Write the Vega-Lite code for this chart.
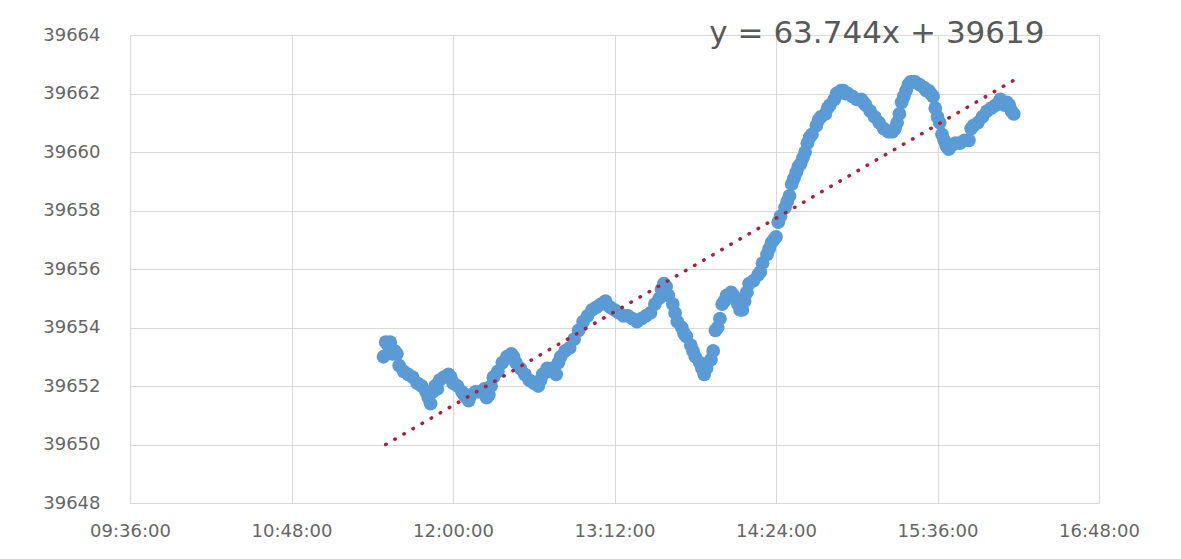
{
  "$schema": "https://vega.github.io/schema/vega-lite/v6.json",
  "width": 969,
  "height": 468,
  "autosize": {"type": "none"},
  "padding": {"left": 130, "top": 35, "right": 82, "bottom": 56},
  "background": "white",
  "config": {
    "view": {"stroke": null},
    "font": "DejaVu Sans",
    "axis": {
      "labelColor": "#666666",
      "labelFont": "DejaVu Sans",
      "labelFontSize": 18,
      "gridColor": "#D9D9D9",
      "gridWidth": 1,
      "domainColor": "#D9D9D9",
      "ticks": false,
      "title": null
    }
  },
  "datasets": {
    "pts": [
      {"t":"11:29","v":39653.0},{"t":"11:30","v":39653.5},{"t":"11:31","v":39653.4},{"t":"11:32","v":39653.5},
      {"t":"11:33","v":39653.1},{"t":"11:34","v":39653.2},{"t":"11:35","v":39653.1},{"t":"11:36","v":39652.7},
      {"t":"11:38","v":39652.5},{"t":"11:40","v":39652.4},{"t":"11:42","v":39652.3},{"t":"11:44","v":39652.1},
      {"t":"11:46","v":39652.0},{"t":"11:48","v":39651.8},{"t":"11:49","v":39651.6},{"t":"11:50","v":39651.4},
      {"t":"11:51","v":39651.8},{"t":"11:52","v":39652.0},{"t":"11:53","v":39651.9},{"t":"11:54","v":39652.2},
      {"t":"11:56","v":39652.3},{"t":"11:58","v":39652.4},{"t":"11:59","v":39652.3},{"t":"12:00","v":39652.1},
      {"t":"12:02","v":39652.0},{"t":"12:04","v":39651.8},{"t":"12:05","v":39651.7},{"t":"12:06","v":39651.6},
      {"t":"12:07","v":39651.5},{"t":"12:08","v":39651.7},{"t":"12:10","v":39651.8},{"t":"12:12","v":39651.8},
      {"t":"12:14","v":39651.9},{"t":"12:15","v":39651.6},{"t":"12:16","v":39651.7},{"t":"12:17","v":39652.0},
      {"t":"12:18","v":39652.3},{"t":"12:20","v":39652.5},{"t":"12:22","v":39652.8},{"t":"12:24","v":39653.0},
      {"t":"12:26","v":39653.1},{"t":"12:27","v":39653.0},{"t":"12:28","v":39652.8},{"t":"12:30","v":39652.6},
      {"t":"12:32","v":39652.4},{"t":"12:34","v":39652.2},{"t":"12:36","v":39652.1},{"t":"12:38","v":39652.0},
      {"t":"12:39","v":39652.2},{"t":"12:40","v":39652.4},{"t":"12:42","v":39652.6},{"t":"12:43","v":39652.5},
      {"t":"12:44","v":39652.6},{"t":"12:46","v":39652.4},{"t":"12:47","v":39652.8},{"t":"12:48","v":39653.0},
      {"t":"12:50","v":39653.2},{"t":"12:52","v":39653.3},{"t":"12:54","v":39653.6},{"t":"12:56","v":39653.9},
      {"t":"12:58","v":39654.2},{"t":"13:00","v":39654.4},{"t":"13:02","v":39654.6},{"t":"13:04","v":39654.7},
      {"t":"13:06","v":39654.8},{"t":"13:08","v":39654.9},{"t":"13:10","v":39654.7},{"t":"13:12","v":39654.6},
      {"t":"13:14","v":39654.5},{"t":"13:16","v":39654.4},{"t":"13:18","v":39654.4},{"t":"13:20","v":39654.3},
      {"t":"13:22","v":39654.2},{"t":"13:24","v":39654.3},{"t":"13:26","v":39654.4},{"t":"13:28","v":39654.5},
      {"t":"13:30","v":39654.8},{"t":"13:32","v":39655.0},{"t":"13:33","v":39655.3},{"t":"13:34","v":39655.5},
      {"t":"13:35","v":39655.4},{"t":"13:36","v":39655.1},{"t":"13:38","v":39654.8},{"t":"13:39","v":39654.5},
      {"t":"13:40","v":39654.2},{"t":"13:42","v":39654.0},{"t":"13:43","v":39653.8},{"t":"13:44","v":39653.7},
      {"t":"13:46","v":39653.4},{"t":"13:47","v":39653.2},{"t":"13:48","v":39653.0},{"t":"13:50","v":39652.8},
      {"t":"13:51","v":39652.6},{"t":"13:52","v":39652.4},{"t":"13:53","v":39652.6},{"t":"13:55","v":39652.9},
      {"t":"13:56","v":39653.2},{"t":"13:57","v":39653.9},{"t":"13:58","v":39654.0},{"t":"13:59","v":39654.3},
      {"t":"14:00","v":39654.8},{"t":"14:01","v":39654.9},{"t":"14:02","v":39655.1},{"t":"14:04","v":39655.2},
      {"t":"14:05","v":39655.1},{"t":"14:06","v":39655.0},{"t":"14:07","v":39654.8},{"t":"14:08","v":39654.6},
      {"t":"14:09","v":39654.6},{"t":"14:10","v":39654.9},{"t":"14:11","v":39655.2},{"t":"14:12","v":39655.5},
      {"t":"14:14","v":39655.6},{"t":"14:16","v":39655.8},{"t":"14:17","v":39655.9},{"t":"14:18","v":39656.2},
      {"t":"14:20","v":39656.5},{"t":"14:21","v":39656.7},{"t":"14:22","v":39656.9},{"t":"14:23","v":39657.0},
      {"t":"14:24","v":39657.1},{"t":"14:25","v":39657.6},{"t":"14:26","v":39657.8},{"t":"14:28","v":39658.1},
      {"t":"14:29","v":39658.3},{"t":"14:30","v":39658.5},{"t":"14:31","v":39658.9},{"t":"14:32","v":39659.1},
      {"t":"14:33","v":39659.3},{"t":"14:34","v":39659.5},{"t":"14:35","v":39659.6},{"t":"14:36","v":39659.8},
      {"t":"14:37","v":39660.0},{"t":"14:38","v":39660.3},{"t":"14:39","v":39660.5},{"t":"14:40","v":39660.6},
      {"t":"14:42","v":39660.9},{"t":"14:43","v":39661.1},{"t":"14:44","v":39661.2},{"t":"14:46","v":39661.3},
      {"t":"14:47","v":39661.5},{"t":"14:48","v":39661.6},{"t":"14:50","v":39661.8},{"t":"14:51","v":39662.0},
      {"t":"14:52","v":39662.0},{"t":"14:53","v":39662.1},{"t":"14:54","v":39662.1},{"t":"14:55","v":39662.0},
      {"t":"14:56","v":39662.0},{"t":"14:58","v":39661.9},{"t":"15:00","v":39661.8},{"t":"15:02","v":39661.8},
      {"t":"15:03","v":39661.7},{"t":"15:04","v":39661.6},{"t":"15:06","v":39661.4},{"t":"15:08","v":39661.2},
      {"t":"15:10","v":39661.0},{"t":"15:12","v":39660.8},{"t":"15:14","v":39660.7},{"t":"15:15","v":39660.7},
      {"t":"15:16","v":39660.7},{"t":"15:17","v":39660.8},{"t":"15:18","v":39661.0},{"t":"15:19","v":39661.3},
      {"t":"15:20","v":39661.7},{"t":"15:21","v":39661.9},{"t":"15:22","v":39662.1},{"t":"15:23","v":39662.3},
      {"t":"15:24","v":39662.4},{"t":"15:25","v":39662.4},{"t":"15:26","v":39662.4},{"t":"15:28","v":39662.3},
      {"t":"15:30","v":39662.2},{"t":"15:31","v":39662.1},{"t":"15:32","v":39662.1},{"t":"15:33","v":39662.0},
      {"t":"15:34","v":39661.9},{"t":"15:35","v":39661.5},{"t":"15:36","v":39661.2},{"t":"15:37","v":39661.0},
      {"t":"15:38","v":39660.6},{"t":"15:39","v":39660.4},{"t":"15:40","v":39660.2},{"t":"15:41","v":39660.1},
      {"t":"15:42","v":39660.2},{"t":"15:44","v":39660.3},{"t":"15:46","v":39660.3},{"t":"15:48","v":39660.4},
      {"t":"15:50","v":39660.4},{"t":"15:51","v":39660.8},{"t":"15:52","v":39660.9},{"t":"15:54","v":39661.0},
      {"t":"15:56","v":39661.2},{"t":"15:58","v":39661.4},{"t":"16:00","v":39661.5},{"t":"16:02","v":39661.6},
      {"t":"16:04","v":39661.8},{"t":"16:05","v":39661.7},{"t":"16:06","v":39661.6},{"t":"16:07","v":39661.7},
      {"t":"16:08","v":39661.6},{"t":"16:09","v":39661.4},{"t":"16:10","v":39661.3}
    ],
    "trend": [
      {"t":"11:30","v":39650.0},
      {"t":"16:10","v":39662.45}
    ],
    "label": [
      {"t":"15:09","v":39664.05,"text":"y = 63.744x + 39619"}
    ]
  },
  "layer": [
    {
      "data": {"name": "pts", "format": {"parse": {"t": "date:'%H:%M'"}}},
      "mark": {"type": "point", "filled": true, "opacity": 1, "size": 190, "color": "#5B9BD5"},
      "encoding": {
        "x": {
          "field": "t", "type": "temporal",
          "scale": {"domain": [
            {"year": 1900, "month": 1, "date": 1, "hours": 9, "minutes": 36},
            {"year": 1900, "month": 1, "date": 1, "hours": 16, "minutes": 48}
          ]},
          "axis": {
            "values": [
              {"year": 1900, "month": 1, "date": 1, "hours": 9, "minutes": 36},
              {"year": 1900, "month": 1, "date": 1, "hours": 10, "minutes": 48},
              {"year": 1900, "month": 1, "date": 1, "hours": 12, "minutes": 0},
              {"year": 1900, "month": 1, "date": 1, "hours": 13, "minutes": 12},
              {"year": 1900, "month": 1, "date": 1, "hours": 14, "minutes": 24},
              {"year": 1900, "month": 1, "date": 1, "hours": 15, "minutes": 36},
              {"year": 1900, "month": 1, "date": 1, "hours": 16, "minutes": 48}
            ],
            "format": "%H:%M:%S",
            "labelPadding": 19,
            "labelFlush": false
          }
        },
        "y": {
          "field": "v", "type": "quantitative",
          "scale": {"domain": [39648, 39664], "zero": false, "nice": false},
          "axis": {
            "values": [39648, 39650, 39652, 39654, 39656, 39658, 39660, 39662, 39664],
            "format": "d",
            "labelPadding": 30,
            "domain": true
          }
        }
      }
    },
    {
      "data": {"name": "trend", "format": {"parse": {"t": "date:'%H:%M'"}}},
      "mark": {"type": "line", "color": "#A8213F", "strokeWidth": 3.5, "strokeDash": [0.5, 10], "strokeCap": "round"},
      "encoding": {
        "x": {"field": "t", "type": "temporal"},
        "y": {"field": "v", "type": "quantitative"}
      }
    },
    {
      "data": {"name": "label", "format": {"parse": {"t": "date:'%H:%M'"}}},
      "mark": {"type": "text", "fontSize": 31, "color": "#595959", "align": "center", "baseline": "middle", "font": "DejaVu Sans"},
      "encoding": {
        "x": {"field": "t", "type": "temporal"},
        "y": {"field": "v", "type": "quantitative"},
        "text": {"field": "text"}
      }
    }
  ]
}
